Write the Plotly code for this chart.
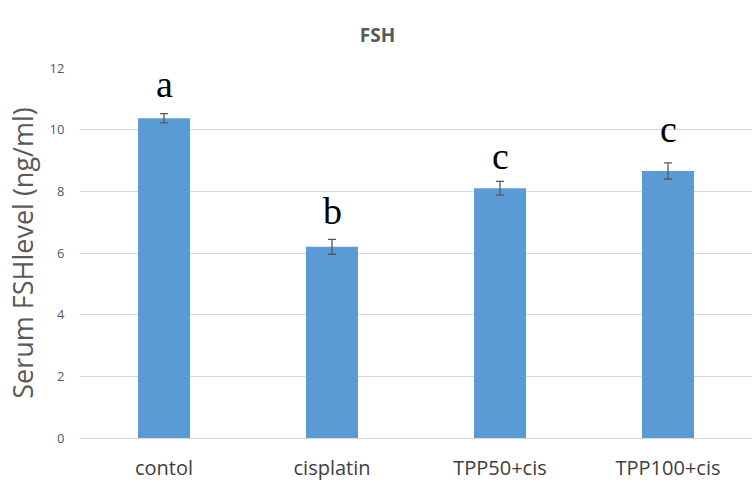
import plotly.graph_objects as go

categories = ["contol", "cisplatin", "TPP50+cis", "TPP100+cis"]
values = [10.37, 6.2, 8.1, 8.66]
errors = [0.15, 0.24, 0.22, 0.26]
letters = ["a", "b", "c", "c"]
y_ticks = [0, 2, 4, 6, 8, 10, 12]

# pixel offsets of the significance letters above the error bars (layout only)
letter_shift = [7, 5, 2, 11]

fig = go.Figure()
fig.add_trace(go.Bar(
    x=categories, y=values,
    marker=dict(color="#5b9bd5", line=dict(width=0)),
    width=0.31,
    error_y=dict(type="data", array=errors, visible=True, color="#595959", thickness=1.3, width=4),
))

for c, v, e, l, s in zip(categories, values, errors, letters, letter_shift):
    fig.add_annotation(x=c, y=v + e, text=l, showarrow=False, yanchor="bottom", yshift=s,
                       font=dict(family="Liberation Serif, Times New Roman, serif", size=38, color="#000000"))

fig.update_layout(
    width=755, height=486,
    margin=dict(l=80, r=3, t=68, b=48),
    plot_bgcolor="white", paper_bgcolor="white",
    showlegend=False,
    title=dict(text="<b>FSH</b>", x=0.5, xanchor="center", y=0.928, yanchor="middle",
               font=dict(family="Open Sans, Liberation Sans, sans-serif", size=19, color="#595959")),
)
fig.update_yaxes(
    range=[0, 12], tickvals=y_ticks, showgrid=True, gridcolor="#d9d9d9", gridwidth=1,
    zeroline=False, showline=False,
    ticks="outside", ticklen=12, tickcolor="rgba(0,0,0,0)",
    tickfont=dict(family="Open Sans, Liberation Sans, sans-serif", size=13, color="#595959"),
    title=dict(text="Serum FSHlevel (ng/ml)", standoff=8,
               font=dict(family="Open Sans, Liberation Sans, sans-serif", size=27, color="#595959")),
)
fig.update_xaxes(
    showline=True, linecolor="#d9d9d9", linewidth=1, showgrid=False,
    ticks="outside", ticklen=12, tickcolor="rgba(0,0,0,0)",
    tickfont=dict(family="Open Sans, Liberation Sans, sans-serif", size=20, color="#404040"),
)

fig.write_html("out.html")
